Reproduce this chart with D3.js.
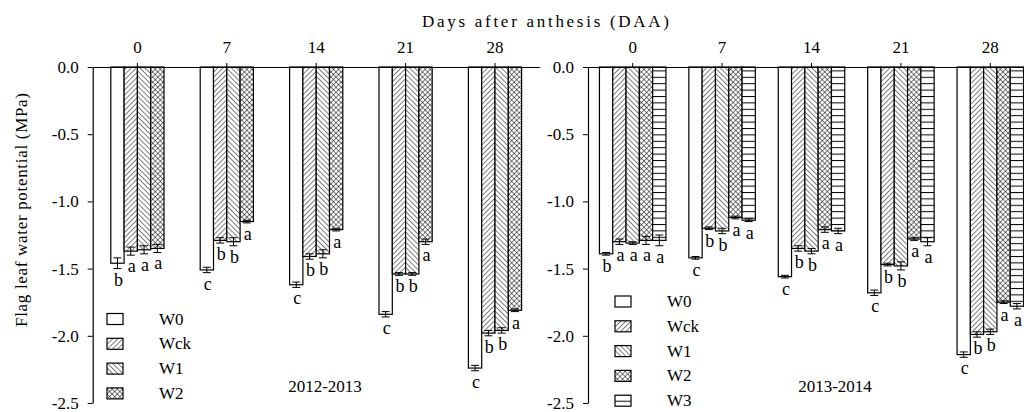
<!DOCTYPE html>
<html>
<head>
<meta charset="utf-8">
<script src="https://cdn.jsdelivr.net/npm/d3@7"></script>
<style>
  html, body { margin: 0; padding: 0; background: #fff; }
  svg { display: block; font-family: "Liberation Serif", "Times New Roman", serif; }
  text { fill: #000; }
</style>
</head>
<body>
<svg id="chart" width="1024" height="412"></svg>
<script>
// ---- Data ----
const days = ["0", "7", "14", "21", "28"];
const treatments1 = ["W0", "Wck", "W1", "W2"];
const treatments2 = ["W0", "Wck", "W1", "W2", "W3"];

// 2012-2013
const y1_W0  = [-1.46, -1.51, -1.62, -1.84, -2.24];
const y1_Wck = [-1.37, -1.29, -1.41, -1.54, -1.98];
const y1_W1  = [-1.36, -1.30, -1.39, -1.54, -1.96];
const y1_W2  = [-1.35, -1.15, -1.21, -1.30, -1.81];
const e1_W0  = [0.04, 0.02, 0.02, 0.02, 0.02];
const e1_Wck = [0.03, 0.02, 0.02, 0.01, 0.02];
const e1_W1  = [0.03, 0.03, 0.03, 0.01, 0.02];
const e1_W2  = [0.03, 0.01, 0.01, 0.02, 0.01];
const l1_W0  = ["b", "c", "c", "c", "c"];
const l1_Wck = ["a", "b", "b", "b", "b"];
const l1_W1  = ["a", "b", "b", "b", "b"];
const l1_W2  = ["a", "a", "a", "a", "a"];

// 2013-2014
const y2_W0  = [-1.39, -1.42, -1.56, -1.68, -2.14];
const y2_Wck = [-1.30, -1.20, -1.35, -1.47, -1.99];
const y2_W1  = [-1.31, -1.22, -1.37, -1.48, -1.97];
const y2_W2  = [-1.29, -1.12, -1.21, -1.28, -1.75];
const y2_W3  = [-1.29, -1.14, -1.22, -1.30, -1.78];
const e2_W0  = [0.01, 0.01, 0.01, 0.02, 0.02];
const e2_Wck = [0.02, 0.01, 0.02, 0.01, 0.02];
const e2_W1  = [0.01, 0.02, 0.02, 0.03, 0.02];
const e2_W2  = [0.03, 0.01, 0.02, 0.01, 0.01];
const e2_W3  = [0.04, 0.01, 0.02, 0.03, 0.02];
const l2_W0  = ["b", "c", "c", "c", "c"];
const l2_Wck = ["a", "b", "b", "b", "b"];
const l2_W1  = ["a", "b", "b", "b", "b"];
const l2_W2  = ["a", "a", "a", "a", "a"];
const l2_W3  = ["a", "a", "a", "a", "a"];

const yTicks = [0, -0.5, -1.0, -1.5, -2.0, -2.5];
const xTitle = "Days after anthesis (DAA)";
const yTitle = "Flag leaf water potential (MPa)";

// ---- Build panel tables ----
function table(names, vals, errs, lets) {
  const rows = [];
  days.forEach((d, i) => names.forEach((n, j) => rows.push({ day: d, t: n, v: vals[j][i], e: errs[j][i], l: lets[j][i] })));
  return rows;
}
const panels = [
  { names: treatments1, label: "2012-2013", x0: 92.7, labelX: 325, legendX: 107, legendY: 319,
    rows: table(treatments1, [y1_W0, y1_Wck, y1_W1, y1_W2], [e1_W0, e1_Wck, e1_W1, e1_W2], [l1_W0, l1_Wck, l1_W1, l1_W2]) },
  { names: treatments2, label: "2013-2014", x0: 588, labelX: 835, legendX: 615, legendY: 301.5,
    rows: table(treatments2, [y2_W0, y2_Wck, y2_W1, y2_W2, y2_W3], [e2_W0, e2_Wck, e2_W1, e2_W2, e2_W3], [l2_W0, l2_Wck, l2_W1, l2_W2, l2_W3]) }
];

const svg = d3.select("#chart");
const defs = svg.append("defs");
function hatch(id, angle, size, cross) {
  const p = defs.append("pattern").attr("id", id).attr("patternUnits", "userSpaceOnUse")
    .attr("width", size).attr("height", size).attr("patternTransform", `rotate(${angle})`);
  p.append("rect").attr("width", size).attr("height", size).attr("fill", "#fff");
  p.append("line").attr("x1", 0).attr("y1", 0).attr("x2", 0).attr("y2", size).attr("stroke", "#000").attr("stroke-width", 1);
  if (cross) p.append("line").attr("x1", 0).attr("y1", 0).attr("x2", size).attr("y2", 0).attr("stroke", "#000").attr("stroke-width", 1);
}
hatch("pWck", 45, 3.6, false);
hatch("pW1", -45, 3.6, false);
hatch("pW2", 45, 3.6, true);
(function () {
  const p = defs.append("pattern").attr("id", "pW3").attr("patternUnits", "userSpaceOnUse").attr("width", 10).attr("height", 6.4);
  p.append("rect").attr("width", 10).attr("height", 6.4).attr("fill", "#fff");
  p.append("line").attr("x1", 0).attr("y1", 0.5).attr("x2", 10).attr("y2", 0.5).attr("stroke", "#000").attr("stroke-width", 1);
})();
const fills = { W0: "#fff", Wck: "url(#pWck)", W1: "url(#pW1)", W2: "url(#pW2)", W3: "url(#pW3)" };

const y = d3.scaleLinear().domain([0, -2.5]).range([67, 403]);
const bandW = 89.4;
const barW = 13.3;

panels.forEach(P => {
  const x = d3.scaleBand().domain(days).range([P.x0, P.x0 + bandW * days.length]).padding(0);
  const inner = d3.scaleBand().domain(P.names).range([-barW * P.names.length / 2, barW * P.names.length / 2]).padding(0);
  const cx = d => x(d.day) + x.bandwidth() / 2 + inner(d.t);
  const g = svg.append("g");

  // bars
  g.selectAll("rect.bar").data(P.rows).join("rect").attr("class", "bar")
    .attr("x", d => cx(d)).attr("y", y(0)).attr("width", inner.bandwidth())
    .attr("height", d => y(d.v) - y(0))
    .attr("fill", d => fills[d.t]).attr("stroke", "#000").attr("stroke-width", 1.2);

  // error bars
  const eb = g.selectAll("g.err").data(P.rows).join("g").attr("class", "err")
    .attr("stroke", "#000").attr("stroke-width", 1);
  eb.append("line").attr("x1", d => cx(d) + barW / 2).attr("x2", d => cx(d) + barW / 2)
    .attr("y1", d => y(d.v + d.e)).attr("y2", d => y(d.v - d.e));
  eb.append("line").attr("x1", d => cx(d) + barW / 2 - 4).attr("x2", d => cx(d) + barW / 2 + 4)
    .attr("y1", d => y(d.v - d.e)).attr("y2", d => y(d.v - d.e));
  eb.append("line").attr("x1", d => cx(d) + barW / 2 - 4).attr("x2", d => cx(d) + barW / 2 + 4)
    .attr("y1", d => y(d.v + d.e)).attr("y2", d => y(d.v + d.e));

  // letters
  g.selectAll("text.sig").data(P.rows).join("text").attr("class", "sig")
    .attr("x", d => cx(d) + barW / 2 + 1).attr("y", d => y(d.v - d.e) + 17)
    .attr("text-anchor", "middle").attr("font-size", 18).text(d => d.l);

  // top axis
  const ax = d3.axisTop(x).tickSize(4).tickSizeOuter(0).tickPadding(10);
  const gx = svg.append("g").attr("transform", `translate(0,${y(0)})`).call(ax);
  gx.selectAll("text").attr("font-size", 17).attr("font-family", "Liberation Serif");
  gx.select(".domain").attr("stroke-width", 1.2);

  // left axis
  const ay = d3.axisLeft(y).tickValues(yTicks).tickFormat(d => d.toFixed(1)).tickSize(5).tickSizeOuter(0).tickPadding(9);
  const gy = svg.append("g").attr("transform", `translate(${P.x0},0)`).call(ay);
  gy.selectAll("text").attr("font-size", 17).attr("font-family", "Liberation Serif");
  gy.select(".domain").attr("stroke-width", 1.2);

  // panel label
  svg.append("text").attr("x", P.labelX).attr("y", 392).attr("text-anchor", "middle").attr("font-size", 17).text(P.label);

  // legend
  const lg = svg.append("g").selectAll("g").data(P.names).join("g")
    .attr("transform", (d, i) => `translate(${P.legendX},${P.legendY + i * 24.8})`);
  lg.append("rect").attr("x", 0).attr("y", -5.5).attr("width", 16).attr("height", 11)
    .attr("fill", d => fills[d]).attr("stroke", "#000").attr("stroke-width", 1.2);
  lg.append("text").attr("x", 52).attr("y", 5.5).attr("font-size", 17).text(d => d);
});

// titles
svg.append("text").attr("x", 422).attr("y", 27).attr("font-size", 17)
  .attr("textLength", 247).attr("lengthAdjust", "spacing").text(xTitle);
svg.append("text").attr("transform", "translate(27,327) rotate(-90)").attr("font-size", 17)
  .attr("textLength", 234).attr("lengthAdjust", "spacing").text(yTitle);
</script>
</body>
</html>
